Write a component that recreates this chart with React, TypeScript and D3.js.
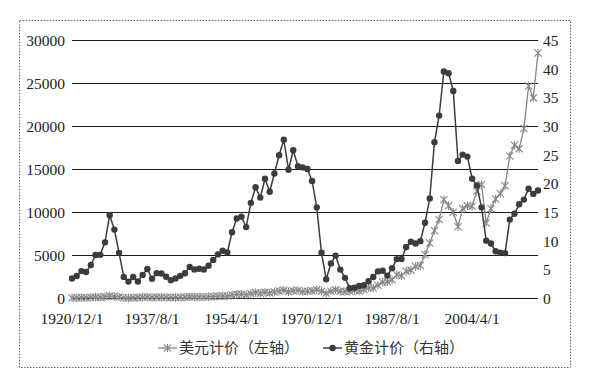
import React from "react";
import * as d3 from "d3";

const years = [
  1920, 1921, 1922, 1923, 1924, 1925, 1926, 1927, 1928, 1929,
  1930, 1931, 1932, 1933, 1934, 1935, 1936, 1937, 1938, 1939,
  1940, 1941, 1942, 1943, 1944, 1945, 1946, 1947, 1948, 1949,
  1950, 1951, 1952, 1953, 1954, 1955, 1956, 1957, 1958, 1959,
  1960, 1961, 1962, 1963, 1964, 1965, 1966, 1967, 1968, 1969,
  1970, 1971, 1972, 1973, 1974, 1975, 1976, 1977, 1978, 1979,
  1980, 1981, 1982, 1983, 1984, 1985, 1986, 1987, 1988, 1989,
  1990, 1991, 1992, 1993, 1994, 1995, 1996, 1997, 1998, 1999,
  2000, 2001, 2002, 2003, 2004, 2005, 2006, 2007, 2008, 2009,
  2010, 2011, 2012, 2013, 2014, 2015, 2016, 2017, 2018, 2019,
];

// 美元计价（左轴）
const usdValues = [
  72, 81, 99, 96, 121, 157, 157, 202, 300, 248,
  165, 78, 60, 100, 104, 144, 180, 121, 155, 150,
  131, 111, 119, 136, 152, 193, 177, 181, 177, 200,
  235, 269, 292, 281, 404, 488, 499, 436, 584, 679,
  616, 731, 652, 763, 874, 969, 786, 905, 944, 800,
  839, 890, 1020, 851, 616, 852, 1005, 831, 805, 839,
  964, 875, 1047, 1259, 1212, 1547, 1896, 1939, 2169, 2753,
  2634, 3169, 3301, 3754, 3834, 5117, 6448, 7908, 9181, 11497,
  10787, 10022, 8342, 10454, 10783, 10718, 12463, 13265, 8776, 10428,
  11578, 12218, 13104, 16577, 17823, 17425, 19763, 24719, 23327, 28538,
];

// 黄金计价（右轴）
const goldValues = [
  3.48, 3.92, 4.78, 4.62, 5.83, 7.58, 7.61, 9.79, 14.51, 12.02,
  7.96, 3.77, 2.95, 3.75, 2.97, 4.12, 5.14, 3.45, 4.42, 4.35,
  3.8, 3.2, 3.5, 3.95, 4.4, 5.51, 5.06, 5.18, 5.07, 5.72,
  6.73, 7.69, 8.34, 8.03, 11.55, 13.95, 14.27, 12.45, 16.68, 19.41,
  17.6, 20.89, 18.63, 21.8, 24.98, 27.69, 22.45, 25.86, 23.07, 22.87,
  22.6, 20.5, 15.9, 7.97, 3.37, 6.12, 7.47, 5.04, 3.6, 1.8,
  1.9, 2.2, 2.3, 3.0, 3.75, 4.73, 4.85, 3.99, 5.29, 6.87,
  6.9, 8.97, 9.91, 9.58, 10.0, 13.22, 17.46, 27.25, 31.9, 39.6,
  39.3, 36.2, 24.0, 25.1, 24.75, 20.9, 19.7, 15.9, 10.09, 9.59,
  8.24, 7.98, 7.91, 13.76, 14.78, 16.44, 17.25, 19.15, 18.24, 18.84,
];

const xTickYears = [1920, 1937, 1954, 1971, 1988, 2005];
const xTickLabels = ["1920/12/1", "1937/8/1", "1954/4/1", "1970/12/1", "1987/8/1", "2004/4/1"];
const leftTicks = [0, 5000, 10000, 15000, 20000, 25000, 30000];
const rightTicks = [0, 5, 10, 15, 20, 25, 30, 35, 40, 45];
const seriesNames = ["美元计价（左轴）", "黄金计价（右轴）"];

const W = 597;
const H = 378;
const USD_COLOR = "#878787";
const GOLD_COLOR = "#3c3c3c";
const LATIN = "'Liberation Serif', 'Times New Roman', serif";
const CJK = "'Noto Sans CJK SC', sans-serif";

function starPath(s: number) {
  return `M${-s},${-s}L${s},${s}M${-s},${s}L${s},${-s}M0,${-s - 0.6}L0,${s + 0.6}`;
}

export default function App() {
  const x = d3.scalePoint<number>().domain(years).range([72, 538]);
  const yL = d3.scaleLinear().domain([0, 30000]).range([298.5, 40.5]);
  const yR = d3.scaleLinear().domain([0, 45]).range([298.5, 40.5]);

  const usdData = years.map((yr, i) => ({ yr, v: usdValues[i] }));
  const goldData = years.map((yr, i) => ({ yr, v: goldValues[i] }));

  const usdLine = d3.line<{ yr: number; v: number }>().x((d) => x(d.yr)!).y((d) => yL(d.v));
  const goldLine = d3.line<{ yr: number; v: number }>().x((d) => x(d.yr)!).y((d) => yR(d.v));

  const [x0, x1] = x.range();
  const star = starPath(3.6);

  const legendY = 348;
  const leg1 = 158;
  const leg2 = 323;

  return (
    <div style={{ position: "absolute", left: 0, top: 0 }}>
      <svg width={W} height={H} style={{ display: "block", background: "#fff" }}>
        <rect x={19.5} y={20.5} width={551} height={347} fill="none" stroke="#666" strokeWidth={1} strokeDasharray="1.5,1.5" />

        {leftTicks.map((t) => (
          <line key={"g" + t} x1={x0} x2={x1} y1={yL(t)} y2={yL(t)} stroke="#1a1a1a" strokeWidth={1} />
        ))}

        {leftTicks.map((t) => (
          <text key={"l" + t} x={65} y={yL(t)} dy="0.35em" textAnchor="end" fontFamily={LATIN} fontSize={15.5} fill="#222">
            {t}
          </text>
        ))}
        {rightTicks.map((t) => (
          <text key={"r" + t} x={543} y={yR(t)} dy="0.35em" textAnchor="start" fontFamily={LATIN} fontSize={15.5} fill="#222">
            {t}
          </text>
        ))}
        {xTickYears.map((yr, i) => (
          <text key={"x" + yr} x={x(yr)} y={324} textAnchor="middle" fontFamily={LATIN} fontSize={15.5} fill="#222">
            {xTickLabels[i]}
          </text>
        ))}

        <path d={usdLine(usdData)!} fill="none" stroke={USD_COLOR} strokeWidth={1.3} />
        {usdData.map((d) => (
          <path key={"s" + d.yr} d={star} transform={`translate(${x(d.yr)},${yL(d.v)})`} fill="none" stroke={USD_COLOR} strokeWidth={1.1} />
        ))}

        <path d={goldLine(goldData)!} fill="none" stroke={GOLD_COLOR} strokeWidth={1.5} />
        {goldData.map((d) => (
          <circle key={"c" + d.yr} cx={x(d.yr)} cy={yR(d.v)} r={3.2} fill={GOLD_COLOR} />
        ))}

        <g>
          <line x1={leg1} x2={leg1 + 19} y1={legendY} y2={legendY} stroke={USD_COLOR} strokeWidth={1.3} />
          <path d={star} transform={`translate(${leg1 + 9.5},${legendY})`} fill="none" stroke={USD_COLOR} strokeWidth={1.1} />
          <text x={leg1 + 21} y={legendY} dy="0.36em" fontFamily={CJK} fontSize={15} fill="#333">
            {seriesNames[0]}
          </text>
          <line x1={leg2} x2={leg2 + 19} y1={legendY} y2={legendY} stroke={GOLD_COLOR} strokeWidth={1.5} />
          <circle cx={leg2 + 9.5} cy={legendY} r={3.2} fill={GOLD_COLOR} />
          <text x={leg2 + 21} y={legendY} dy="0.36em" fontFamily={CJK} fontSize={15} fill="#333">
            {seriesNames[1]}
          </text>
        </g>
      </svg>
    </div>
  );
}
